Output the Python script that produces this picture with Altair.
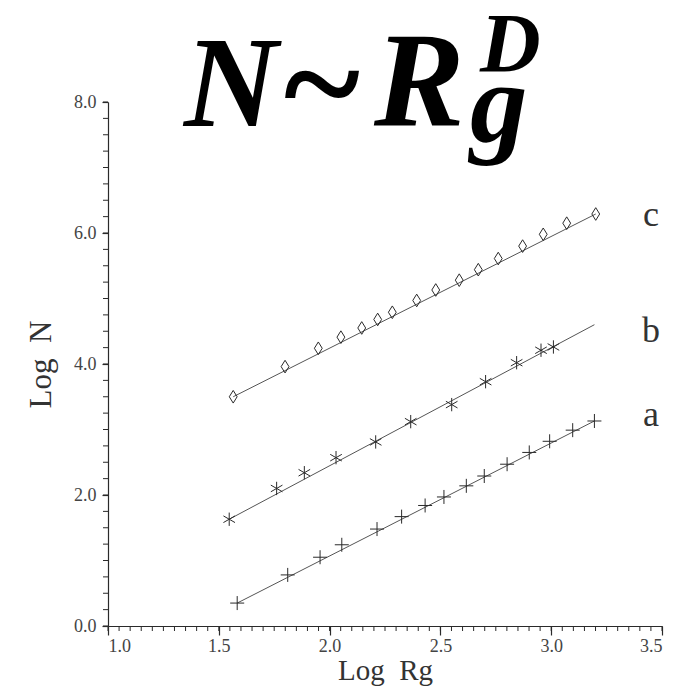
import altair as alt
import pandas as pd

# ---- data ----
a_x = [1.583, 1.811, 1.957, 2.055, 2.214, 2.325, 2.431, 2.516, 2.617, 2.698, 2.801, 2.901, 2.993, 3.097, 3.195]
a_y = [0.35, 0.78, 1.05, 1.24, 1.48, 1.67, 1.84, 1.97, 2.14, 2.29, 2.47, 2.65, 2.82, 2.99, 3.13]

b_x = [1.547, 1.761, 1.886, 2.029, 2.208, 2.366, 2.551, 2.704, 2.844, 2.954, 3.010]
b_y = [1.63, 2.10, 2.34, 2.57, 2.81, 3.12, 3.38, 3.73, 4.02, 4.21, 4.26]

c_x = [1.565, 1.799, 1.949, 2.051, 2.145, 2.217, 2.283, 2.393, 2.479, 2.585,
       2.671, 2.761, 2.871, 2.964, 3.070, 3.201]
c_y = [3.50, 3.96, 4.24, 4.41, 4.55, 4.68, 4.79, 4.97, 5.13, 5.28,
       5.44, 5.61, 5.80, 5.98, 6.15, 6.29]

# fitted straight lines (end points)
fit_series = ["a", "a", "b", "b", "c", "c"]
fit_x = [1.583, 3.195, 1.547, 3.195, 1.565, 3.201]
fit_y = [0.35, 3.13, 1.63, 4.60, 3.50, 6.29]

# curve labels
lab_text = ["c", "b", "a"]
lab_x = [3.45, 3.45, 3.45]
lab_y = [6.27, 4.50, 3.22]

# axis ticks
x_major = [1.0, 1.5, 2.0, 2.5, 3.0, 3.5]
x_minor = [round(1.0 + 0.05 * i, 2) for i in range(51)]
y_major = [0.0, 2.0, 4.0, 6.0, 8.0]
y_minor = [round(0.25 * i, 2) for i in range(33)]

pts = pd.DataFrame(
    {"x": a_x + b_x + c_x,
     "y": a_y + b_y + c_y,
     "s": ["a"] * len(a_x) + ["b"] * len(b_x) + ["c"] * len(c_x)}
)
fit = pd.DataFrame({"x": fit_x, "y": fit_y, "s": fit_series})
labs = pd.DataFrame({"x": lab_x, "y": lab_y, "t": lab_text})
xmin_df = pd.DataFrame({"x": x_minor})
ymin_df = pd.DataFrame({"y": y_minor})

SERIF = "Liberation Serif"
INK = "#2a2a2a"
W, H = 554, 524

xs = alt.Scale(domain=[1.0, 3.5], nice=False, zero=False)
ys = alt.Scale(domain=[0.0, 8.0], nice=False, zero=False)

X_AX = alt.Axis(
    orient="bottom", values=x_major, format=".1f", tickSize=9, domain=True,
    domainColor=INK, domainWidth=1.2, tickColor=INK, tickWidth=1.2,
    labelFont=SERIF, labelFontSize=18, labelColor="#444444",
    labelPadding=2, title="Log\u00a0\u00a0Rg", titleFont=SERIF, titleFontSize=29,
    titleFontWeight="normal", titleColor="#333333", titlePadding=1, grid=False)
Y_AX = alt.Axis(
    orient="left", values=y_major, format=".1f", tickSize=6, domain=True,
    domainColor=INK, domainWidth=1.2, tickColor=INK, tickWidth=1.2,
    labelFont=SERIF, labelFontSize=18, labelColor="#444444",
    labelPadding=6, title="Log\u00a0\u00a0N", titleFont=SERIF, titleFontSize=31,
    titleFontWeight="normal", titleColor="#333333", titlePadding=16, grid=False)

plus = "M-1,0L1,0M0,-1L0,1"
star = "M0,-1L0,1M-0.87,-0.5L0.87,0.5M-0.87,0.5L0.87,-0.5"
diamond = "M0,-1L0.62,0L0,1L-0.62,0Z"

lines = alt.Chart(fit).mark_line(color="#555555", strokeWidth=1).encode(
    x=alt.X("x:Q", scale=xs, axis=X_AX),
    y=alt.Y("y:Q", scale=ys, axis=Y_AX),
    detail="s:N",
)

points = alt.Chart(pts).mark_point(filled=False, strokeWidth=1, opacity=1).encode(
    x=alt.X("x:Q", scale=xs, axis=X_AX),
    y=alt.Y("y:Q", scale=ys, axis=Y_AX),
    shape=alt.Shape("s:N", scale=alt.Scale(domain=["a", "b", "c"],
                                           range=[plus, star, diamond]), legend=None),
    size=alt.Size("s:N", scale=alt.Scale(domain=["a", "b", "c"],
                                         range=[196, 160, 256]), legend=None),
    color=alt.value(INK),
)

# minor ticks
x_minor_ticks = alt.Chart(xmin_df).mark_rule(color=INK, strokeWidth=1).encode(
    x=alt.X("x:Q", scale=xs, axis=X_AX), y=alt.value(H), y2=alt.value(H + 5))
y_minor_ticks = alt.Chart(ymin_df).mark_rule(color=INK, strokeWidth=1).encode(
    y=alt.Y("y:Q", scale=ys, axis=Y_AX), x=alt.value(-5), x2=alt.value(0))

labels = alt.Chart(labs).mark_text(
    font=SERIF, fontSize=36, color="#333333", align="center", baseline="middle"
).encode(x=alt.X("x:Q", scale=xs, axis=X_AX), y=alt.Y("y:Q", scale=ys, axis=Y_AX), text="t:N")

# formula heading  N ~ R_g^D
def piece(txt, x, y, size, italic=True):
    kw = dict(font=SERIF, fontSize=size, fontWeight="bold", color="black",
              align="left", baseline="alphabetic")
    if italic:
        kw["fontStyle"] = "italic"
    return alt.Chart(pd.DataFrame({"t": [txt]})).mark_text(**kw).encode(
        text="t:N", x=alt.value(x), y=alt.value(y))

title = (piece("N", 76, 24, 130) + piece("~", 176, 30, 146, italic=False)
         + piece("R", 266, 24, 136) + piece("g", 362, 40, 115)
         + piece("D", 372, -30, 84))

chart = alt.layer(x_minor_ticks, y_minor_ticks, lines, points, labels, title).properties(
    width=W, height=H,
    padding={"left": 108, "top": 102, "right": 15, "bottom": 61},
    autosize=alt.AutoSizeParams(type="none"),
    background="white",
).configure_view(stroke=None)

chart.save("out.html", embed_options={"renderer": "svg", "actions": False})
